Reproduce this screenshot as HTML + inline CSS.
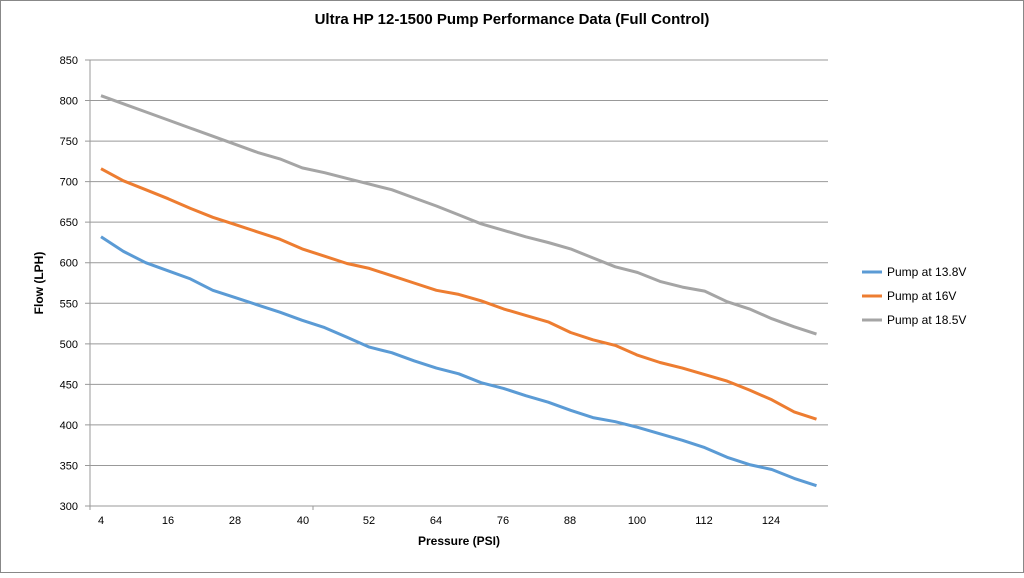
<!DOCTYPE html><html><head><style>body{margin:0;background:#fff}svg text{font-family:"Liberation Sans",sans-serif}</style></head><body>
<svg id="s" width="1024" height="573" xmlns="http://www.w3.org/2000/svg">
<rect x="0.5" y="0.5" width="1023" height="572" fill="#fff" stroke="#888"/>
<text x="512" y="24" text-anchor="middle" font-size="15" font-weight="bold">Ultra HP 12-1500 Pump Performance Data (Full Control)</text>
<g id="g"></g>
<text x="459" y="545" text-anchor="middle" font-size="12" font-weight="bold">Pressure (PSI)</text>
<text transform="translate(43,283) rotate(-90)" text-anchor="middle" font-size="12" font-weight="bold">Flow (LPH)</text>
<line x1="862" y1="272" x2="882" y2="272" stroke="#5b9bd5" stroke-width="3"/><text x="887" y="276" font-size="12">Pump at 13.8V</text>
<line x1="862" y1="296" x2="882" y2="296" stroke="#ed7d31" stroke-width="3"/><text x="887" y="300" font-size="12">Pump at 16V</text>
<line x1="862" y1="320" x2="882" y2="320" stroke="#a5a5a5" stroke-width="3"/><text x="887" y="324" font-size="12">Pump at 18.5V</text>
</svg>
<script>
var g=document.getElementById('g'),h='';
function Y(v){return 506-(v-300)*446/550}
for(var v=300;v<=850;v+=50){var y=Y(v);h+='<line x1="85" y1="'+y+'" x2="828" y2="'+y+'" stroke="#999" stroke-width="1"/>';h+='<text x="78" y="'+(y+4)+'" text-anchor="end" font-size="11">'+v+'</text>';}
h+='<line x1="90" y1="60" x2="90" y2="510" stroke="#999"/>';
var lx=[101,168,235,303,369,436,503,570,637,704,771],ll=[4,16,28,40,52,64,76,88,100,112,124];
for(var i=0;i<lx.length;i++)h+='<text x="'+lx[i]+'" y="524" text-anchor="middle" font-size="11">'+ll[i]+'</text>';
h+='<line x1="313" y1="506" x2="313" y2="510" stroke="#999"/>';
var d=[[632,614,600,590,580,566,557,548,539,529,520,508,496,489,479,470,463,452,445,436,428,418,409,404,397,389,381,372,360,351,345,334,325,'#5b9bd5'],
[716,701,690,679,667,656,647,638,629,617,608,599,593,584,575,566,561,553,543,535,527,514,505,498,486,477,470,462,454,443,431,416,407,'#ed7d31'],
[806,796,786,776,766,756,746,736,728,717,711,704,697,690,680,670,659,648,640,632,625,617,606,595,588,577,570,565,552,543,531,521,512,'#a5a5a5']];
d.forEach(function(s){var p=[];for(var i=0;i<33;i++)p.push((101+i*22.36).toFixed(1)+','+Y(s[i]).toFixed(1));h+='<polyline points="'+p.join(' ')+'" fill="none" stroke="'+s[33]+'" stroke-width="3" stroke-linejoin="round"/>';});
g.innerHTML=h;
</script></body></html>
